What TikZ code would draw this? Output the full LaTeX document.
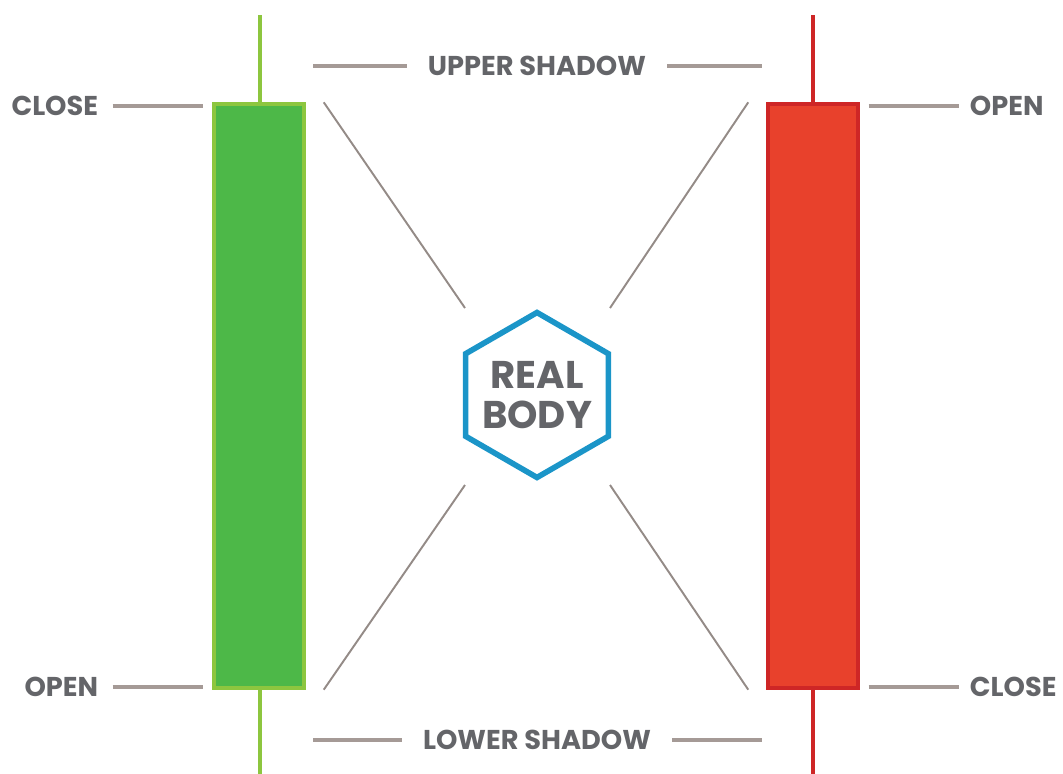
\documentclass[tikz,border=0pt]{standalone}
\usepackage{fontspec}
\setmainfont{Poppins}
\usepackage{tikz}
\usetikzlibrary{positioning,shapes.geometric,calc}
\usepackage{xcolor}
\definecolor{bullgreen}{RGB}{77,184,72}
\definecolor{bullwick}{RGB}{141,198,63}
\definecolor{bearred}{RGB}{232,65,44}
\definecolor{bearwick}{RGB}{206,38,38}
\definecolor{hexblue}{RGB}{27,149,200}
\definecolor{txtgray}{RGB}{100,101,105}
\definecolor{leadgray}{RGB}{165,154,150}

\begin{document}
\begin{tikzpicture}[
    x=0.02cm,y=-0.02cm,
    lbl/.style={text=txtgray,font=\bfseries\fontsize{15.5}{15.5}\selectfont,inner sep=2pt},
    lead/.style={draw=leadgray,line width=1.8pt},
    diag/.style={draw=leadgray!90!black,line width=1.1pt},
    body/.style={minimum width=1.8cm,minimum height=11.68cm,inner sep=0,line width=2pt},
  ]
    \useasboundingbox (0,0) rectangle (1063,774);
    % wicks
    \draw[bullwick,line width=2.2pt] (260,15) -- (260,774);
    \draw[bearwick,line width=2.2pt] (813,15) -- (813,774);
    % bodies
    \node[body,fill=bullgreen,draw=bullwick] (gbody) at (259,396) {};
    \node[body,fill=bearred,draw=bearwick] (rbody) at (813,396) {};
    % labels at the bodies
    \node[lbl,anchor=east] (gclose) at (102,106) {CLOSE};
    \node[lbl,anchor=east] (gopen) at (102,687) {OPEN};
    \node[lbl,anchor=west] (ropen) at (966,106) {OPEN};
    \node[lbl,anchor=west] (rclose) at (966,687) {CLOSE};
    \draw[lead] ([xshift=6pt]gclose.east) -- ([xshift=-5pt]gclose.east -| gbody.west);
    \draw[lead] ([xshift=6pt]gopen.east) -- ([xshift=-5pt]gopen.east -| gbody.west);
    \draw[lead] ([xshift=5pt]ropen.west -| rbody.east) -- ([xshift=-4pt]ropen.west);
    \draw[lead] ([xshift=5pt]rclose.west -| rbody.east) -- ([xshift=-4pt]rclose.west);
    % shadows
    \node[lbl] (upper) at (537,66) {UPPER SHADOW};
    \node[lbl] (lower) at (537,740) {LOWER SHADOW};
    \coordinate (ul) at (313,66);
    \coordinate (ur) at (762,66);
    \coordinate (ll) at (313,740);
    \coordinate (lr) at (762,740);
    \draw[lead] (ul) -- ([xshift=-10pt]upper.west);
    \draw[lead] ([xshift=10pt]upper.east) -- (ur);
    \draw[lead] (ll) -- ([xshift=-10pt]lower.west);
    \draw[lead] ([xshift=10pt]lower.east) -- (lr);
    % real body
    \node[regular polygon,regular polygon sides=6,shape border rotate=30,
      draw=hexblue,line width=3.2pt,minimum size=3.3cm,inner sep=-12pt,
      text=txtgray,align=center,font=\bfseries\fontsize{22}{23}\selectfont] (hex) at (537,395) {REAL\\BODY};
    \coordinate (h1) at (465,308);
    \coordinate (h2) at (610,308);
    \coordinate (h3) at (465,485);
    \coordinate (h4) at (610,485);
    \draw[diag] ($(gbody.north east)+(18,0)$) -- (h1);
    \draw[diag] ($(rbody.north west)+(-18,0)$) -- (h2);
    \draw[diag] ($(gbody.south east)+(18,0)$) -- (h3);
    \draw[diag] ($(rbody.south west)+(-18,0)$) -- (h4);
  \end{tikzpicture}
\end{document}
